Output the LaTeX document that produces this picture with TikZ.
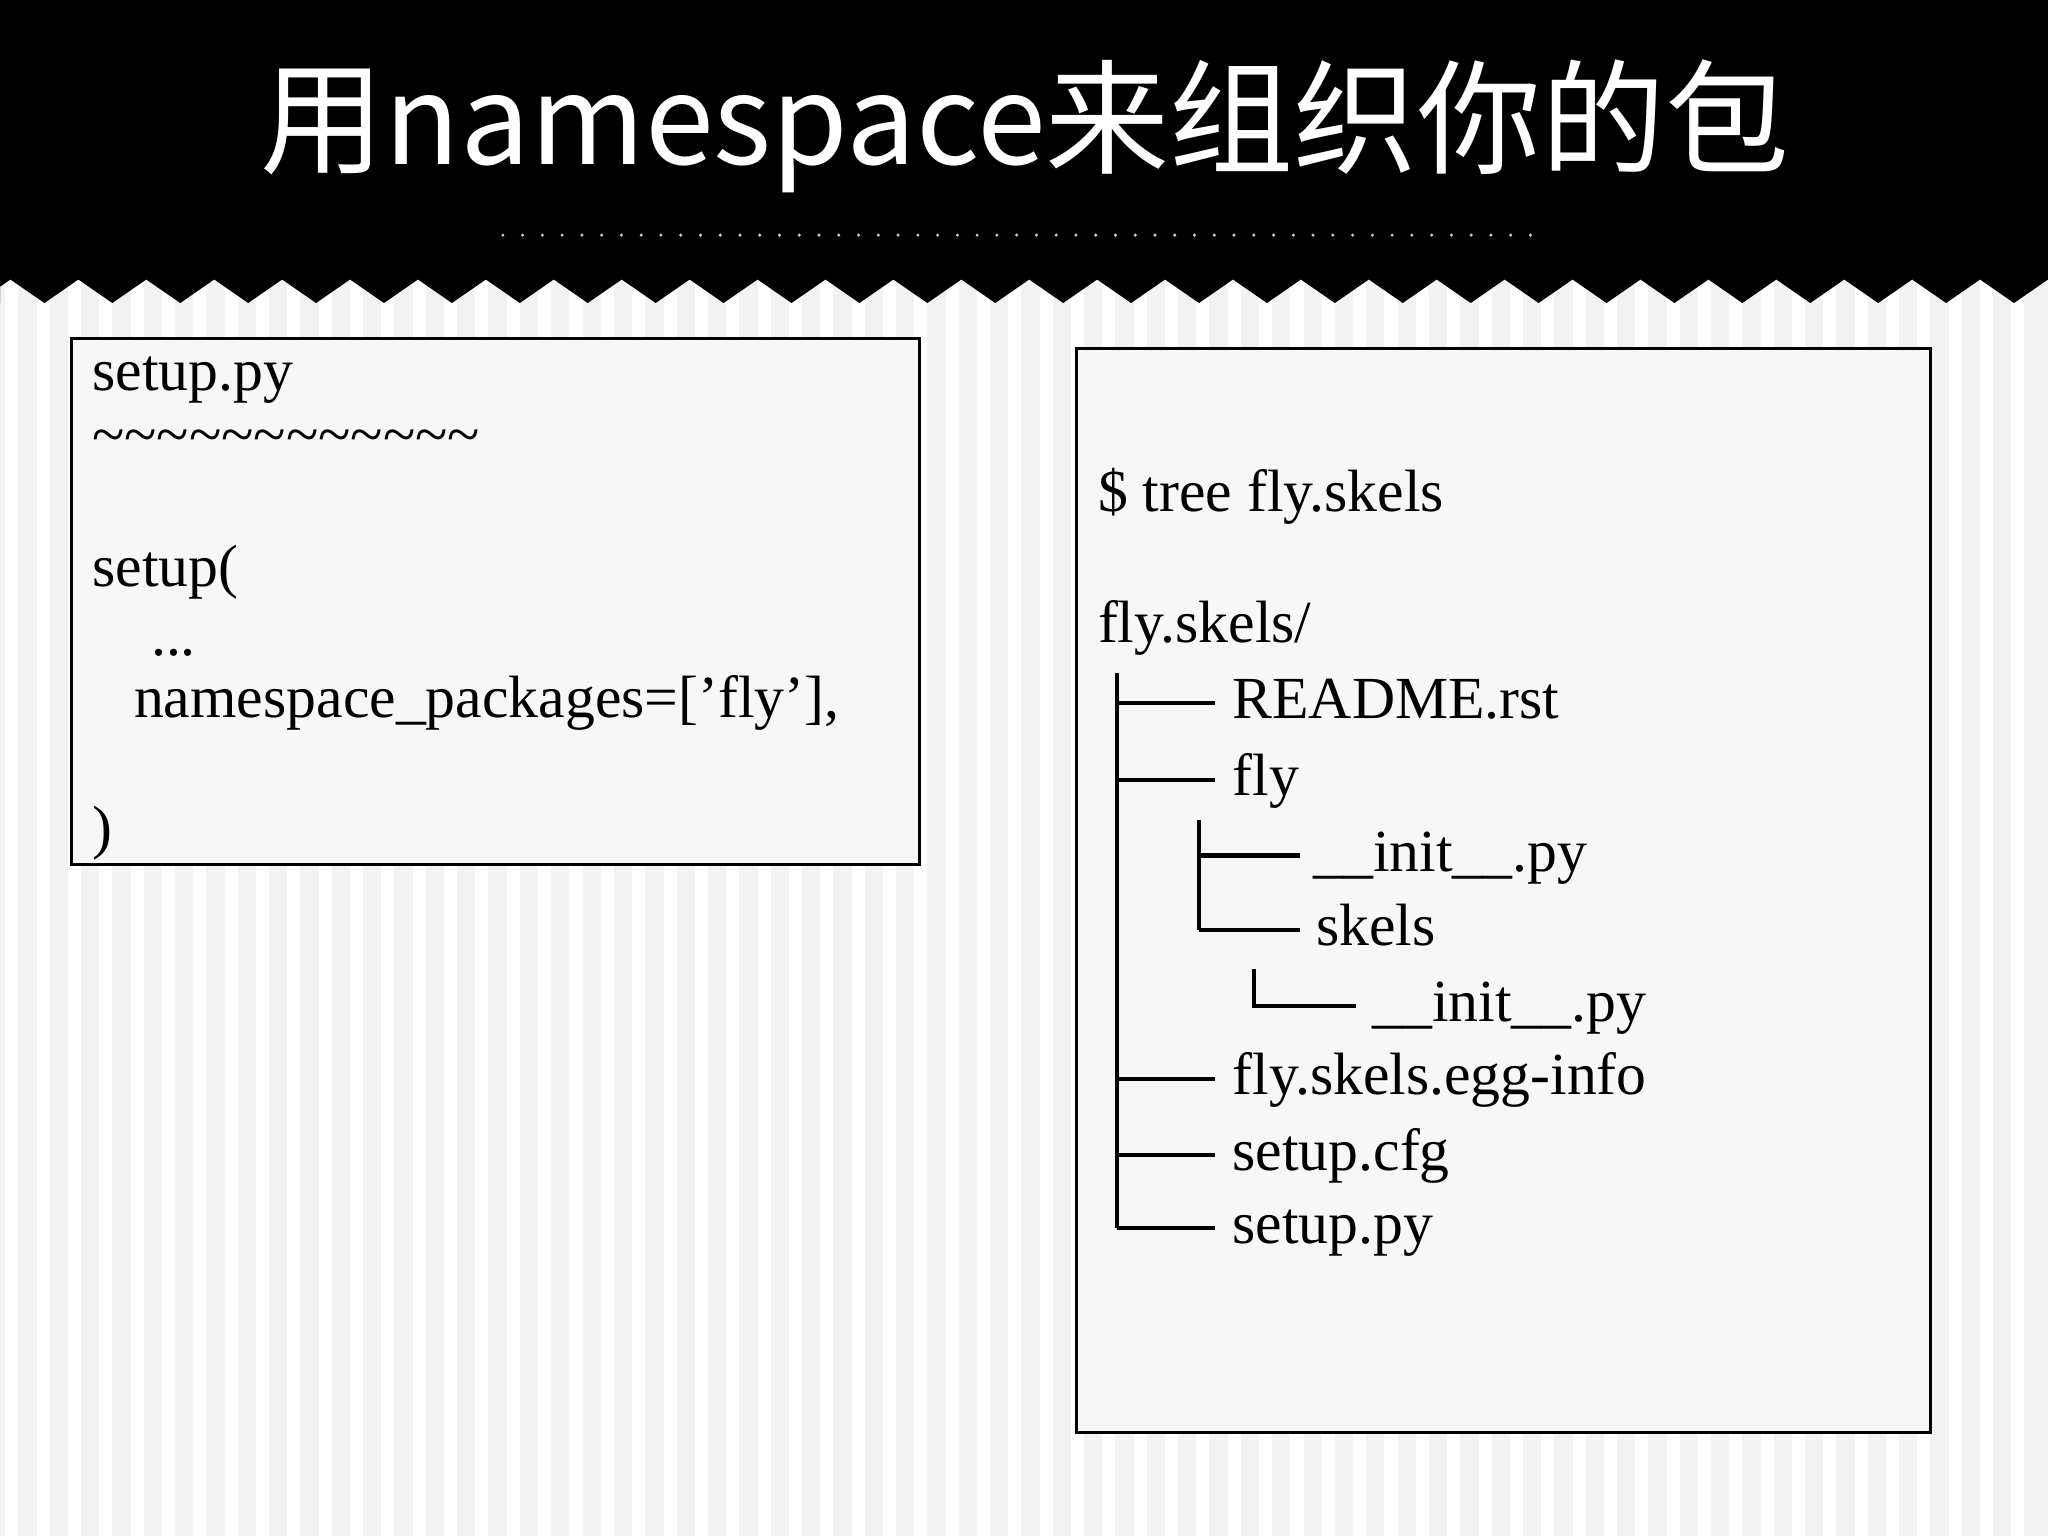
\documentclass[tikz,border=0pt]{standalone}
\usepackage{fontspec}
\setmainfont{Liberation Serif}
\newfontfamily\cjk{Noto Sans CJK SC}
\begin{document}
\begin{tikzpicture}[x=0.01cm,y=-0.01cm,
  txt/.style={anchor=base west,inner sep=0pt,font=\fontsize{13}{15}\selectfont},
  box/.style={draw=black,line width=0.7pt,fill=white!97!black},
  tree/.style={line width=0.9pt}]
\useasboundingbox (0,0) rectangle (1568,1176);
\fill[white!95!black] (0,0) rectangle (1568,1176);
\foreach \i in {0,...,64} {\fill[white] (\i*24+4,210) rectangle (\i*24+14,1176);}
% black band with zigzag
\fill[black] (0,0) -- (1568,0) -- (1568,214)
  \foreach \k in {0,...,30} {-- ({1568-\k*52-26},232) -- ({1568-\k*52-52},214)} -- (0,232) -- cycle;
\node[text=white,font=\cjk\fontsize{27}{30}\selectfont] (title) at (785,97) {用namespace来组织你的包};
\foreach \i in {0,...,52} {\fill[white!80!black] (385+\i*15.13,180) circle (1.3);}
% left box
\draw[box] (55,259) rectangle (704,662);
\node[txt] (l1) at (70,299) {setup.py};
\node[txt] (l2) at (70,348) {\char`\~\char`\~\char`\~\char`\~\char`\~\char`\~\char`\~\char`\~\char`\~\char`\~\char`\~\char`\~};
\node[txt] (l3) at (70,449) {setup(};
\node[txt] (l4) at (115,502) {...};
\node[txt] (l5) at (102,549) {namespace\_packages=['fly'],};
\node[txt] (l6) at (70,649) {)};
% right box
\draw[box] (824,267) rectangle (1478,1097);
\node[txt] (r1) at (840,392) {\$ tree fly.skels};
\node[txt] (r2) at (840,492) {fly.skels/};
\node[txt] (r3) at (943,550) {README.rst};
\node[txt] (r4) at (943,609) {fly};
\node[txt] (r5) at (1005,667) {\_\_init\_\_.py};
\node[txt] (r6) at (1007,724) {skels};
\node[txt] (r7) at (1050,782) {\_\_init\_\_.py};
\node[txt] (r8) at (943,838) {fly.skels.egg-info};
\node[txt] (r9) at (943,896) {setup.cfg};
\node[txt] (r10) at (943,952) {setup.py};
\coordinate (v0) at (855,515); \coordinate (v1) at (855,940);
\draw[tree] (v0) -- (v1);
\foreach \yy in {538,597,826,884,940} \draw[tree] (855,\yy) -- (930,\yy);
\draw[tree] (918,628) -- (918,712);
\draw[tree] (918,655) -- (995,655);
\draw[tree] (918,712) -- (995,712);
\draw[tree] (960,742) -- (960,770) -- (1038,770);
\end{tikzpicture}
\end{document}
